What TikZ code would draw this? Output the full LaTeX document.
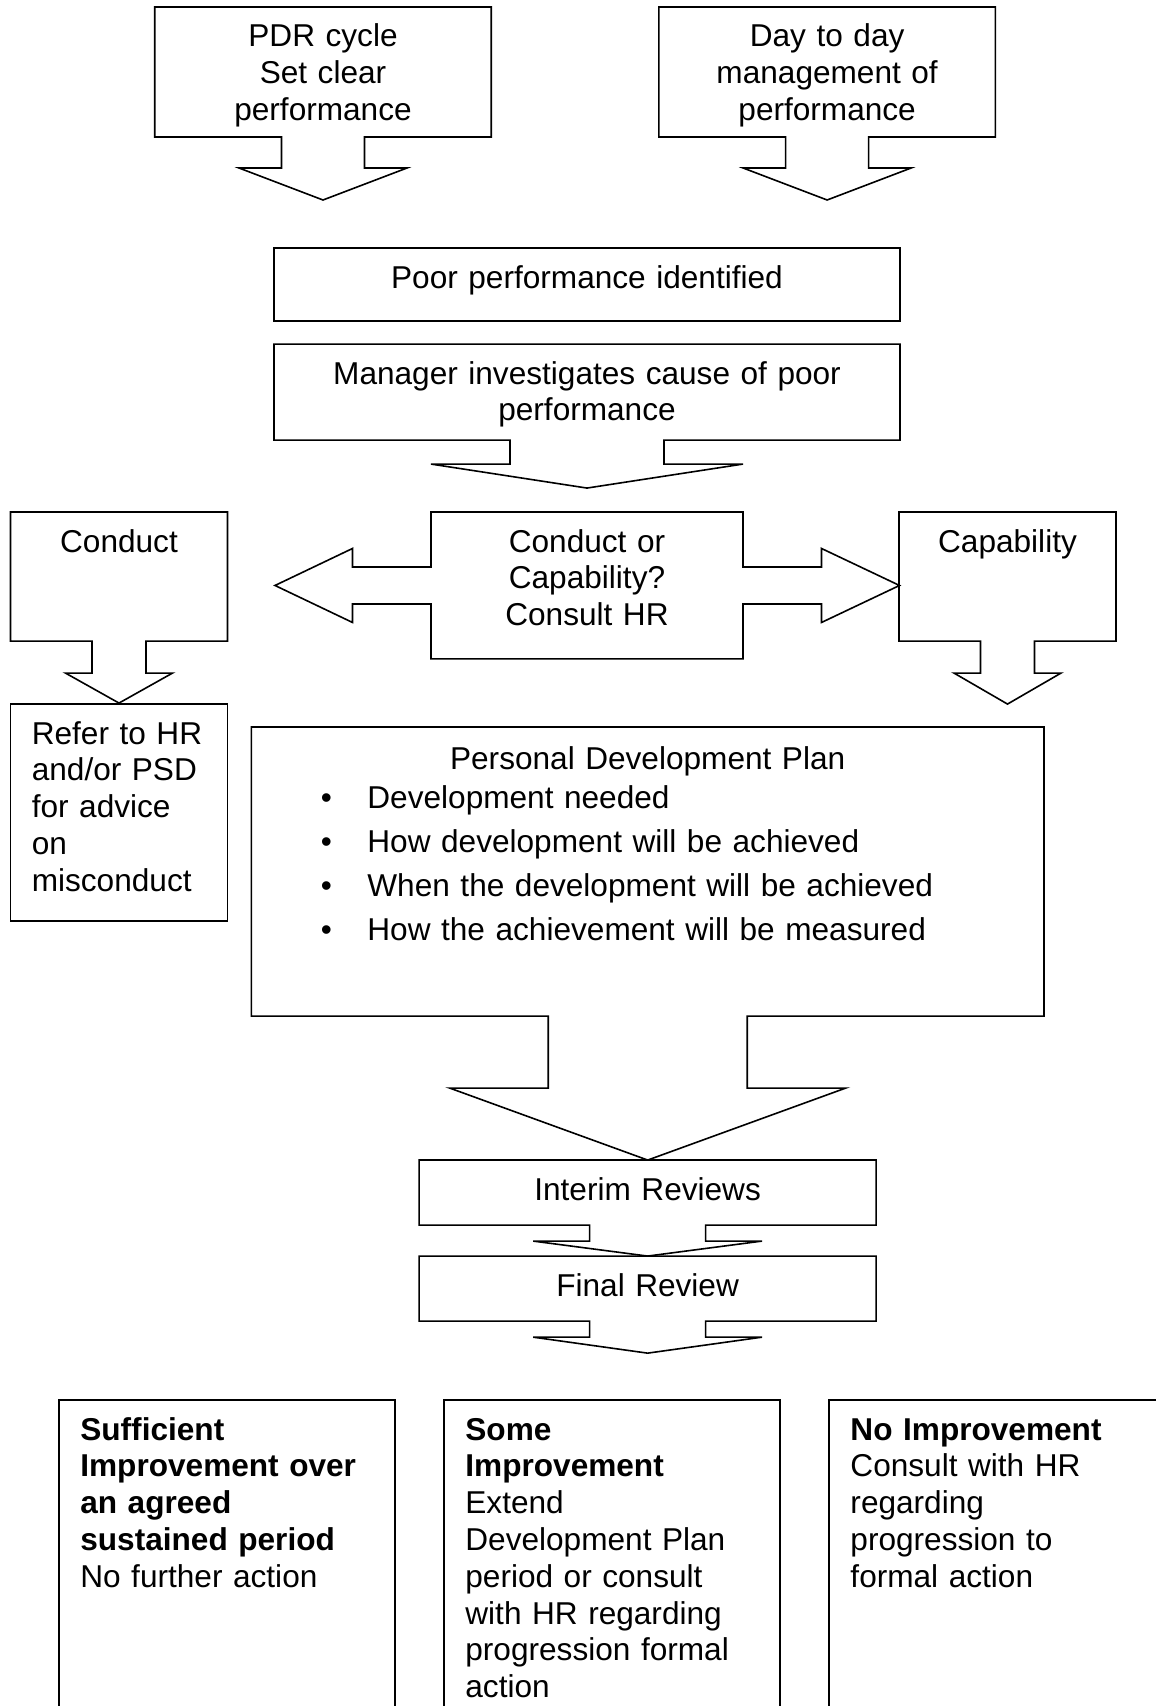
\documentclass[tikz,border=0pt]{standalone}
\usepackage{fontspec}
\setmainfont{Liberation Sans}
\usetikzlibrary{calc,
	positioning
}
\tikzset{
	box/.style={font=\fontsize{11.85}{13.8}\selectfont, inner xsep=8pt, inner ysep=6pt, text height=9pt, outer sep=0pt, anchor=north, align=center},
	framed/.style={box, draw, line width=0.6pt},
	callout/.style={draw, line width=0.6pt},
	outcome/.style={framed, align=left, text width=110pt, text depth=150pt},
}
% box with a block arrow below: node, shaft half width, head half width, head start, tip
\newcommand{\downcallout}[5]{%
	\draw[callout] (#1.north west) -- (#1.north east) -- (#1.south east)
	-- ($(#1.south)+(#2,0)$) -- ($(#1.south)+(#2,#4)$) -- ($(#1.south)+(#3,#4)$)
	-- ($(#1.south)+(0,#5)$)
	-- ($(#1.south)+(-#3,#4)$) -- ($(#1.south)+(-#2,#4)$) -- ($(#1.south)+(-#2,0)$)
	-- (#1.south west) -- cycle;}

\begin{document}
\begin{tikzpicture}[x=0.375pt, y=-0.375pt]

\useasboundingbox (0,0) rectangle (1156,1706);
\clip (0,0) rectangle (1156,1706);

% boxes

\node[box, text width=110.2pt, text depth=27.75pt] (pdr) at (323,7) {PDR cycle\\Set clear\\performance};
\node[box, text width=110.2pt, text depth=27.75pt, right=62.85pt of pdr] (daily) {Day to day\\management of\\performance};

\node[framed, text width=218.75pt, text depth=6.4pt] (poor) at (587,248) {Poor performance identified};
\node[box, text width=218.75pt, text depth=15pt, below=8.625pt of poor] (investigate) {Manager investigates cause of poor\\performance};

\node[box, text width=65.4pt, text depth=27.4pt] (conduct) at (119,512) {Conduct};
\node[box, text width=101pt, text depth=34.1pt] (ask) at (587,512) {Conduct or\\Capability?\\Consult HR};
\node[box, text width=65.4pt, text depth=27.4pt] (capability) at (1007.5,512) {Capability};

\node[framed, text width=65.4pt, text depth=60.4pt, align=left] (refer) at (119,704) {Refer to HR\\and/or PSD\\for advice\\on\\misconduct};

\node[box, text width=281.2pt, text height=9.8pt, text depth=86.6pt, align=left] (pdp) at (647.7,727) {\makebox[281.2pt]{Personal Development Plan}\\[1.1pt]
\hspace*{18pt}\makebox[17.5pt][l]{•}Development needed\\[2.7pt]
\hspace*{18pt}\makebox[17.5pt][l]{•}How development will be achieved\\[2.7pt]
\hspace*{18pt}\makebox[17.5pt][l]{•}When the development will be achieved\\[2.7pt]
\hspace*{18pt}\makebox[17.5pt][l]{•}How the achievement will be measured};

\node[box, text width=155.4pt, text depth=3.4pt] (interim) at (647.6,1160) {Interim Reviews};
\node[box, text width=155.4pt, text depth=3.4pt, below=11.625pt of interim] (final) {Final Review};

\node[outcome] (sufficient) at (227,1400) {\textbf{Sufficient}\\\textbf{Improvement over}\\\textbf{an agreed}\\\textbf{sustained period}\\No further action};
\node[outcome, right=18.4pt of sufficient] (some) {\textbf{Some}\\\textbf{Improvement}\\Extend\\Development Plan\\period or consult\\with HR regarding\\progression formal\\action};
\node[outcome, right=18.4pt of some] (none) {\textbf{No Improvement}\\Consult with HR\\regarding\\progression to\\formal action};

% arrows

\downcallout{pdr}{41.5}{84}{31}{63}
\downcallout{daily}{41.5}{84}{31}{63}
\downcallout{investigate}{77}{156}{24}{48}
\downcallout{conduct}{27}{53.5}{32}{62}
\downcallout{capability}{27}{53.5}{32}{63}
\downcallout{pdp}{99.5}{198}{72}{144}
\downcallout{interim}{58}{114.5}{16}{31}
\downcallout{final}{58}{114.5}{16}{32}

\draw[callout] 
(ask.north west) -- (ask.north east) -- ($(ask.east)+(0,-18.5)$) -- ($(ask.east)+(78.5,-18.5)$) -- ($(ask.east)+(78.5,-37)$)
-- ($(ask.east)+(156.5,0)$)
-- ($(ask.east)+(78.5,37)$) -- ($(ask.east)+(78.5,18.5)$) -- ($(ask.east)+(0,18.5)$) -- (ask.south east)
-- (ask.south west) -- ($(ask.west)+(0,18.5)$) -- ($(ask.west)+(-78.5,18.5)$) -- ($(ask.west)+(-78.5,37)$)
-- ($(ask.west)+(-156,0)$)
-- ($(ask.west)+(-78.5,-37)$) -- ($(ask.west)+(-78.5,-18.5)$) -- ($(ask.west)+(0,-18.5)$) -- cycle;

\end{tikzpicture}
\end{document}
